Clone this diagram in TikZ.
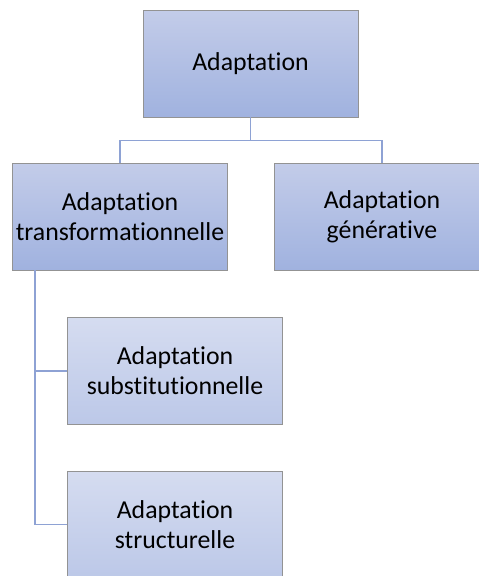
\documentclass[tikz,border=0pt]{standalone}
\usepackage{fontspec}
\setmainfont{Carlito}[Ligatures={NoCommon}]
\definecolor{boxtop}{HTML}{C3CCE9}
\definecolor{boxbot}{HTML}{A0B2DF}
\definecolor{subtop}{HTML}{D5DCF0}
\definecolor{subbot}{HTML}{BCC8E8}
\definecolor{linkcol}{HTML}{8EA2D4}
\tikzset{
  orgbox/.style={draw=gray!85, line width=0.8pt, top color=boxtop, bottom color=boxbot,
    minimum width=215pt, minimum height=107pt, align=center, inner sep=0pt,
    font=\fontsize{25.8}{30}\selectfont},
  subbox/.style={orgbox, top color=subtop, bottom color=subbot},
  link/.style={draw=linkcol, line width=1.7pt}
}
\begin{document}
\begin{tikzpicture}[x=1pt, y=-1pt]
    \useasboundingbox (0,0) rectangle (479,576);

    % Cajas
    \node[orgbox] (adapt) at (250.5,63.5) {Adaptation};
    \node[orgbox] (trans) at (120,216.5) {Adaptation\\transformationnelle};
    \node[orgbox] (gen) at (382,216.5) {Adaptation\\générative};
    \node[subbox] (subst) at (175,371) {Adaptation\\substitutionnelle};
    \node[subbox] (struct) at (175,524.5) {Adaptation\\structurelle};

    % Enlaces
    \coordinate (bus) at ([xshift=23pt]trans.south west);
    \draw[link] (adapt.south) -- ++(0,23) -| (trans.north);
    \draw[link] (adapt.south) -- ++(0,23) -| (gen.north);
    \draw[link] (bus) |- (struct.west);
    \draw[link] (bus |- subst.west) -- (subst.west);

\end{tikzpicture}
\end{document}
